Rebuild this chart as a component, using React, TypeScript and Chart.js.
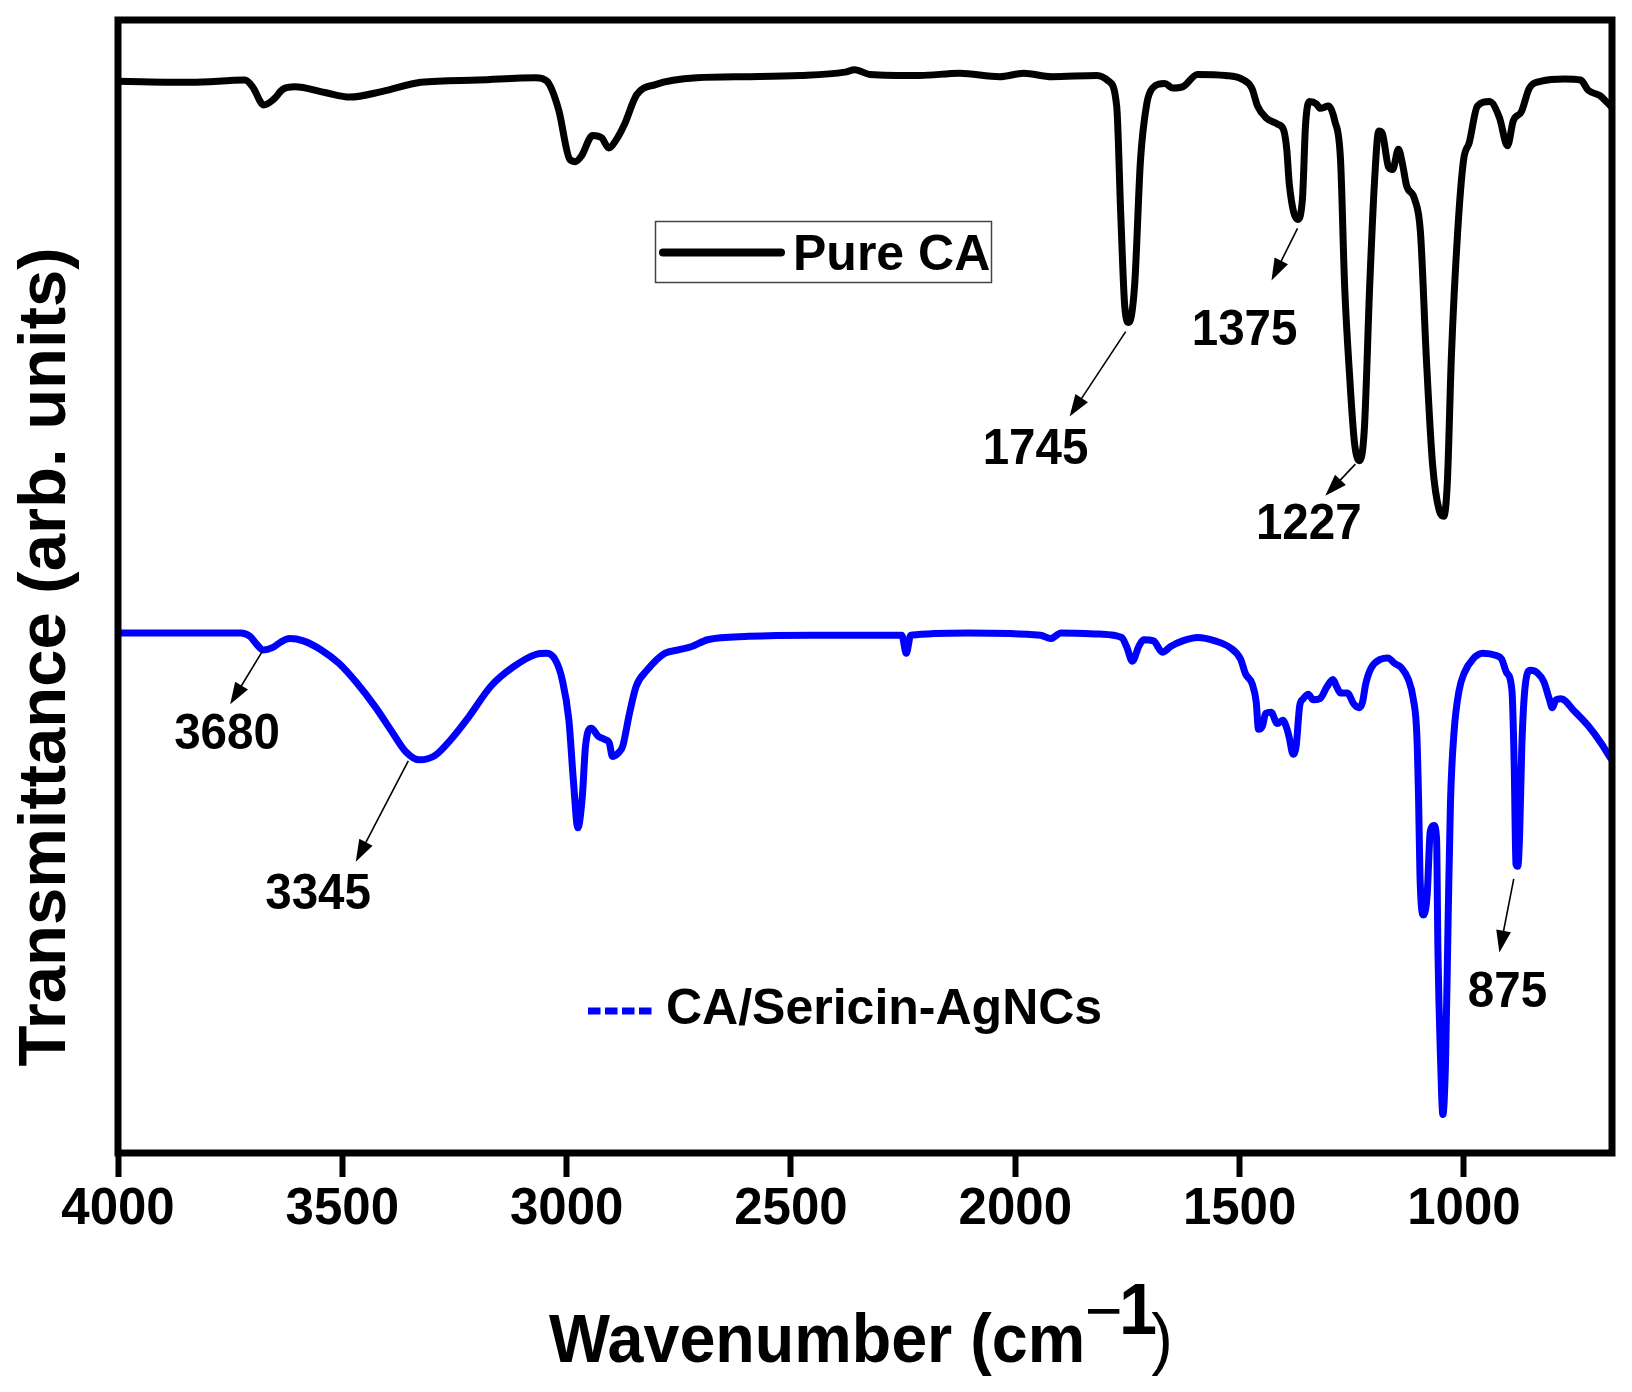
import React, { useEffect, useRef } from "react";
import { Chart, registerables } from "chart.js";

Chart.register(...registerables);

const FONT = '"Liberation Sans", Arial, Helvetica, sans-serif';

// ---- axes ----
const xAxisMax = 4000;
const xAxisMin = 670;
const xTickValues = [4000, 3500, 3000, 2500, 2000, 1500, 1000];
const yAxisMin = 0;
const yAxisMax = 100;
const xAxisTitle = "Wavenumber (cm";
const xAxisTitleSup = ["\u2212", "1"];
const yAxisTitle = "Transmittance (arb. units)";

// ---- series ----
const seriesNames = ["Pure CA", "CA/Sericin-AgNCs"];
const seriesColors = ["#000000", "#0000ff"];

const pureCAWavenumber = [
  4000, 3837, 3717, 3700, 3675, 3653, 3632, 3606, 3539, 3483, 3410, 3325, 3198, 3069, 3044, 3018,
  2993, 2980, 2967, 2942, 2922, 2906, 2890, 2871, 2844, 2802, 2710, 2592, 2480, 2380, 2358, 2324,
  2213, 2124, 2035, 1981, 1919, 1818, 1792, 1774, 1765, 1756, 1747, 1734, 1721, 1707, 1694, 1667,
  1649, 1627, 1594, 1531, 1496, 1473, 1460, 1442, 1415, 1402, 1395, 1389, 1371, 1360, 1353, 1344,
  1329, 1320, 1302, 1288, 1275, 1266, 1255, 1244, 1233, 1222, 1210, 1199, 1190, 1182, 1168, 1159,
  1146, 1137, 1128, 1110, 1097, 1084, 1070, 1055, 1045, 1037, 1028, 1014, 1001, 988, 970, 943,
  921, 903, 890, 872, 854, 827, 776, 740, 723, 696, 678, 670,
];
const pureCATransmittance = [
  94.6, 94.5, 94.7, 94.1, 92.5, 93.0, 93.9, 94.1, 93.6, 93.2, 93.7, 94.5, 94.7, 94.9, 94.6, 92.1,
  87.7, 87.5, 88.0, 89.8, 89.6, 88.7, 89.4, 90.8, 93.4, 94.3, 94.9, 95.0, 95.1, 95.4, 95.6, 95.2,
  95.1, 95.3, 95.0, 95.3, 95.0, 95.1, 94.6, 92.4, 82.9, 74.7, 73.3, 76.6, 87.6, 92.6, 94.0, 94.4,
  94.0, 94.1, 95.2, 95.1, 94.8, 94.0, 92.4, 91.4, 90.8, 90.3, 88.6, 85.4, 82.4, 84.2, 90.8, 92.8,
  92.6, 92.2, 92.4, 91.1, 87.6, 76.6, 68.7, 62.7, 61.1, 63.9, 76.6, 86.0, 90.2, 90.0, 87.0, 86.8,
  88.6, 87.3, 85.4, 84.2, 81.3, 70.3, 60.8, 56.7, 56.2, 59.2, 70.3, 81.3, 87.6, 89.2, 92.4, 92.8,
  91.4, 88.9, 91.1, 91.9, 94.0, 94.6, 94.8, 94.7, 93.8, 93.3, 92.6, 92.3,
];

const sericinWavenumber = [
  4000, 3865, 3726, 3706, 3691, 3676, 3656, 3637, 3617, 3587, 3547, 3507, 3468, 3427, 3388, 3358,
  3328, 3293, 3258, 3218, 3169, 3119, 3069, 3044, 3025, 3010, 2995, 2985, 2975, 2965, 2958, 2945,
  2930, 2915, 2905, 2898, 2885, 2875, 2860, 2845, 2821, 2781, 2751, 2721, 2686, 2594, 2454, 2269,
  2253, 2243, 2233, 2106, 1944, 1921, 1898, 1812, 1763, 1752, 1739, 1725, 1714, 1692, 1672, 1654,
  1627, 1593, 1555, 1521, 1498, 1487, 1472, 1463, 1458, 1449, 1442, 1430, 1416, 1404, 1395, 1389,
  1381, 1374, 1366, 1358, 1347, 1336, 1321, 1306, 1292, 1283, 1275, 1260, 1245, 1234, 1226, 1219,
  1207, 1185, 1170, 1154, 1139, 1124, 1113, 1105, 1101, 1098, 1090, 1082, 1075, 1067, 1061, 1058,
  1052, 1047, 1041, 1035, 1030, 1022, 1011, 999, 980, 958, 928, 916, 905, 893, 888, 884,
  880, 876, 871, 863, 852, 837, 822, 810, 803, 795, 784, 754, 723, 693, 674, 670,
];
const sericinTransmittance = [
  45.9, 45.9, 45.9, 45.6, 44.9, 44.4, 44.6, 45.1, 45.4, 45.2, 44.4, 43.2, 41.5, 39.4, 37.1, 35.4,
  34.7, 35.1, 36.5, 38.5, 41.2, 42.9, 44.0, 44.1, 43.5, 41.8, 38.2, 32.9, 28.7, 31.5, 35.9, 37.5,
  36.8, 36.5, 36.2, 35.0, 35.3, 35.9, 38.8, 41.2, 42.6, 44.1, 44.4, 44.7, 45.3, 45.6, 45.7, 45.7,
  45.7, 44.1, 45.7, 45.9, 45.7, 45.4, 45.9, 45.8, 45.5, 44.7, 43.4, 44.7, 45.3, 45.2, 44.2, 44.7,
  45.2, 45.5, 45.2, 44.6, 43.6, 42.3, 41.4, 39.8, 37.4, 37.7, 38.8, 38.9, 37.9, 38.2, 37.5, 36.6,
  35.2, 35.9, 39.5, 40.1, 40.5, 40.0, 40.1, 41.1, 41.8, 41.1, 40.6, 40.6, 39.6, 39.3, 39.8, 41.4,
  42.8, 43.6, 43.7, 43.2, 42.8, 41.8, 40.1, 36.9, 31.0, 24.5, 21.0, 22.8, 28.4, 28.9, 27.7, 17.9,
  8.1, 3.4, 8.1, 21.2, 31.0, 37.2, 40.8, 42.4, 43.6, 44.1, 43.9, 43.6, 42.4, 40.8, 34.3, 25.5,
  25.3, 28.0, 35.9, 41.4, 42.6, 42.4, 41.6, 40.1, 39.3, 40.0, 40.1, 39.0, 37.7, 36.1, 34.9, 34.7,
];

// ---- peak annotations (data coordinates) ----
const peakLabels = ["1745", "1375", "1227", "3680", "3345", "875"];
const peakArrowFromX = [1754, 1371, 1242, 3678, 3353, 889];
const peakArrowFromY = [72.5, 81.6, 60.8, 44.3, 34.6, 24.2];
const peakArrowToX = [1879, 1429, 1309, 3750, 3470, 921];
const peakArrowToY = [65.0, 77.0, 58.0, 39.6, 25.7, 17.7];
const peakLabelX = [1955, 1489, 1346, 3757, 3554, 903];
const peakLabelY = [60.8, 71.3, 54.2, 35.7, 21.5, 12.9];

function drawArrow(ctx: CanvasRenderingContext2D, x1: number, y1: number, x2: number, y2: number) {
  const ang = Math.atan2(y2 - y1, x2 - x1);
  const headLen = 22;
  const headHalf = 7.5;
  const c = Math.cos(ang);
  const s = Math.sin(ang);
  ctx.lineWidth = 1.6;
  ctx.beginPath();
  ctx.moveTo(x1, y1);
  ctx.lineTo(x2 - c * headLen * 0.8, y2 - s * headLen * 0.8);
  ctx.stroke();
  ctx.beginPath();
  ctx.moveTo(x2, y2);
  ctx.lineTo(x2 - headLen * c + headHalf * s, y2 - headLen * s - headHalf * c);
  ctx.lineTo(x2 - headLen * c - headHalf * s, y2 - headLen * s + headHalf * c);
  ctx.closePath();
  ctx.fill();
}

const overlayPlugin = {
  id: "overlay",
  afterDraw(chart: any) {
    const { ctx, chartArea, scales } = chart;
    const xs = scales.x;
    const ys = scales.y;
    ctx.save();

    // frame
    ctx.strokeStyle = "#000";
    ctx.lineWidth = 7;
    ctx.lineJoin = "miter";
    ctx.strokeRect(chartArea.left, chartArea.top, chartArea.right - chartArea.left, chartArea.bottom - chartArea.top);

    // arrows + peak labels
    ctx.fillStyle = "#000";
    ctx.strokeStyle = "#000";
    for (let i = 0; i < peakLabels.length; i++) {
      drawArrow(
        ctx,
        xs.getPixelForValue(peakArrowFromX[i]),
        ys.getPixelForValue(peakArrowFromY[i]),
        xs.getPixelForValue(peakArrowToX[i]),
        ys.getPixelForValue(peakArrowToY[i])
      );
    }
    ctx.font = `bold 50px ${FONT}`;
    ctx.textAlign = "center";
    ctx.textBaseline = "alphabetic";
    for (let i = 0; i < peakLabels.length; i++) {
      ctx.save();
      ctx.translate(xs.getPixelForValue(peakLabelX[i]), ys.getPixelForValue(peakLabelY[i]));
      ctx.scale(0.95, 1);
      ctx.fillText(peakLabels[i], 0, 0);
      ctx.restore();
    }

    // legend 1 (boxed)
    ctx.lineWidth = 1.5;
    ctx.strokeStyle = "#444";
    ctx.strokeRect(655.5, 221.5, 336, 61);
    ctx.strokeStyle = seriesColors[0];
    ctx.lineWidth = 8;
    ctx.lineCap = "round";
    ctx.beginPath();
    ctx.moveTo(663, 252.5);
    ctx.lineTo(781, 252.5);
    ctx.stroke();
    ctx.lineCap = "butt";
    ctx.textAlign = "left";
    ctx.fillStyle = "#000";
    ctx.font = `bold 50px ${FONT}`;
    ctx.fillText(seriesNames[0], 793, 270);

    // legend 2 (dashed sample)
    ctx.fillStyle = seriesColors[1];
    for (let i = 0; i < 4; i++) {
      ctx.fillRect(588 + i * 17, 1007.5, 12.5, 7);
    }
    ctx.fillStyle = "#000";
    ctx.fillText(seriesNames[1], 666, 1024);

    // y title
    ctx.save();
    ctx.font = `bold 67px ${FONT}`;
    ctx.translate(65, 657);
    ctx.rotate(-Math.PI / 2);
    ctx.textAlign = "center";
    ctx.textBaseline = "alphabetic";
    ctx.fillText(yAxisTitle, 0, 0);
    ctx.restore();

    // x title with superscript
    ctx.save();
    ctx.font = `bold 68px ${FONT}`;
    ctx.textAlign = "left";
    ctx.textBaseline = "alphabetic";
    ctx.translate(549, 1362);
    ctx.scale(0.95, 1);
    ctx.fillText(xAxisTitle, 0, 0);
    let w = ctx.measureText(xAxisTitle).width;
    ctx.font = `68px ${FONT}`;
    ctx.fillText(xAxisTitleSup[0], w, -28);
    w += ctx.measureText(xAxisTitleSup[0]).width - 4;
    ctx.font = `bold 72px ${FONT}`;
    ctx.fillText(xAxisTitleSup[1], w, -28);
    w += ctx.measureText(xAxisTitleSup[1]).width - 6;
    ctx.font = `68px ${FONT}`;
    ctx.fillText(")", w, 0);
    ctx.restore();

    ctx.restore();
  },
};

export default function App() {
  const canvasRef = useRef<HTMLCanvasElement | null>(null);

  useEffect(() => {
    const canvas = canvasRef.current;
    if (!canvas) return;
    const chart = new Chart(canvas, {
      type: "line",
      data: {
        datasets: [
          {
            label: seriesNames[0],
            data: pureCAWavenumber.map((x, i) => ({ x, y: pureCATransmittance[i] })),
            borderColor: seriesColors[0],
            borderWidth: 7,
            pointRadius: 0,
            fill: false,
            cubicInterpolationMode: "monotone",
            borderJoinStyle: "round",
            borderCapStyle: "round",
          },
          {
            label: seriesNames[1],
            data: sericinWavenumber.map((x, i) => ({ x, y: sericinTransmittance[i] })),
            borderColor: seriesColors[1],
            borderWidth: 7,
            pointRadius: 0,
            fill: false,
            cubicInterpolationMode: "monotone",
            borderJoinStyle: "round",
            borderCapStyle: "round",
          },
        ],
      },
      options: {
        animation: false,
        responsive: false,
        maintainAspectRatio: false,
        layout: { padding: { top: 20, right: 20, bottom: 0, left: 0 } },
        plugins: {
          legend: { display: false },
          tooltip: { enabled: false },
          title: { display: false },
        },
        scales: {
          x: {
            type: "linear",
            reverse: true,
            min: xAxisMin,
            max: xAxisMax,
            afterBuildTicks: (s: any) => {
              s.ticks = xTickValues.map((v) => ({ value: v }));
            },
            afterFit: (s: any) => {
              s.height = 239;
            },
            ticks: {
              font: { family: FONT, size: 51, weight: "bold", lineHeight: 1.2 },
              color: "#000",
              padding: 2,
              maxRotation: 0,
              autoSkip: false,
              callback: (v: any) => String(v),
            },
            grid: {
              display: true,
              drawOnChartArea: false,
              drawTicks: true,
              tickLength: 24,
              tickWidth: 6,
              tickColor: "#000",
              color: "#000",
            },
            border: { display: false },
          },
          y: {
            type: "linear",
            min: yAxisMin,
            max: yAxisMax,
            ticks: { display: false },
            grid: { display: false },
            border: { display: false },
            afterFit: (s: any) => {
              s.width = 118;
            },
          },
        },
      } as any,
      plugins: [overlayPlugin],
    });
    return () => chart.destroy();
  }, []);

  return (
    <div style={{ position: "fixed", left: 0, top: 0, width: 1632, height: 1392, background: "#fff" }}>
      <canvas ref={canvasRef} width={1632} height={1392} style={{ display: "block" }} />
    </div>
  );
}
